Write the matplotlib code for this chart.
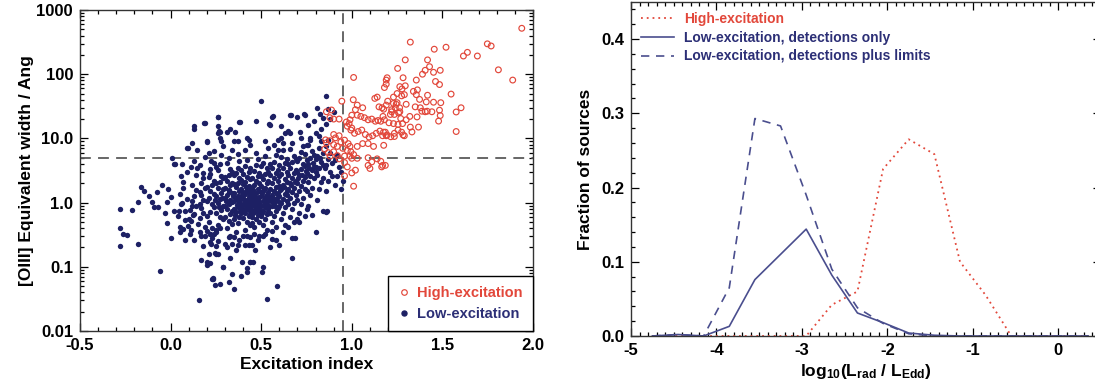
import matplotlib
matplotlib.use("Agg")
import matplotlib.pyplot as plt
from matplotlib.ticker import FixedLocator, FixedFormatter, MultipleLocator, LogLocator, NullFormatter
from matplotlib.lines import Line2D

plt.rcParams['font.family'] = ['Liberation Sans', 'DejaVu Sans']
plt.rcParams['font.weight'] = 'bold'
plt.rcParams['axes.unicode_minus'] = False
plt.rcParams['mathtext.fontset'] = 'custom'
plt.rcParams['mathtext.rm'] = 'Liberation Sans:bold'
plt.rcParams['mathtext.it'] = 'Liberation Sans:bold'
plt.rcParams['mathtext.bf'] = 'Liberation Sans:bold'

# ---- left panel: excitation index vs [OIII] EW
low_pts = [
    # x < 0
    (-0.28, 0.79), (-0.28, 0.40), (-0.265, 0.33), (-0.28, 0.21), (-0.24, 0.31), (-0.215, 0.78),
    (-0.18, 0.23), (-0.18, 1.04), (-0.165, 1.78), (-0.148, 1.52), (-0.10, 1.03), (-0.077, 1.48),
    (-0.068, 0.86), (-0.06, 0.087), (-0.02, 0.48), (-0.013, 1.62), (0.0, 0.28), (0.0, 1.23),
    (-0.018, 1.03), (-0.09, 0.85), (-0.12, 1.25), (-0.05, 1.9), (-0.03, 0.7), (0.01, 5.0), (0.02, 4.0),
    # core
    (0.04, 0.62), (0.06, 0.95), (0.05, 1.35), (0.07, 2.1), (0.05, 0.42), (0.08, 0.74), (0.07, 1.7),
    (0.09, 3.0), (0.06, 2.6), (0.09, 1.15),
    (0.11, 0.52), (0.12, 0.88), (0.13, 1.25), (0.12, 1.9), (0.14, 2.7), (0.11, 0.38), (0.13, 0.66),
    (0.12, 1.05), (0.14, 1.55), (0.11, 3.6), (0.13, 4.4), (0.15, 0.47), (0.14, 0.9),
    (0.16, 0.58), (0.17, 0.82), (0.18, 1.1), (0.16, 1.45), (0.17, 2.0), (0.18, 2.9), (0.16, 3.8),
    (0.19, 0.42), (0.18, 0.68), (0.17, 1.3), (0.19, 1.7), (0.18, 2.4), (0.16, 0.95), (0.19, 5.2), (0.17, 0.3),
    (0.21, 0.5), (0.22, 0.72), (0.23, 0.95), (0.21, 1.2), (0.22, 1.5), (0.23, 1.9), (0.21, 2.5),
    (0.22, 3.3), (0.24, 4.2), (0.23, 0.4), (0.2, 0.62), (0.24, 0.85), (0.2, 1.05), (0.24, 1.35),
    (0.2, 1.75), (0.24, 2.2), (0.22, 2.8), (0.21, 6.0), (0.23, 0.28),
    (0.26, 0.45), (0.27, 0.6), (0.28, 0.78), (0.26, 0.98), (0.27, 1.15), (0.28, 1.4), (0.26, 1.7),
    (0.27, 2.1), (0.28, 2.6), (0.26, 3.2), (0.27, 4.0), (0.28, 5.5), (0.25, 0.35), (0.29, 0.55),
    (0.25, 0.7), (0.29, 0.9), (0.25, 1.25), (0.29, 1.6), (0.25, 2.0), (0.29, 2.4), (0.25, 3.6),
    (0.29, 7.5), (0.26, 0.25),
    (0.31, 0.4), (0.32, 0.52), (0.33, 0.66), (0.31, 0.8), (0.32, 0.95), (0.33, 1.1), (0.31, 1.3),
    (0.32, 1.55), (0.33, 1.85), (0.31, 2.2), (0.32, 2.7), (0.33, 3.3), (0.31, 4.2), (0.34, 0.46),
    (0.3, 0.6), (0.34, 0.75), (0.3, 0.88), (0.34, 1.02), (0.3, 1.2), (0.34, 1.4), (0.3, 1.7),
    (0.34, 2.0), (0.3, 2.5), (0.34, 3.0), (0.32, 5.0), (0.33, 0.3), (0.31, 0.2), (0.34, 6.5),
    (0.36, 0.35), (0.37, 0.48), (0.38, 0.6), (0.36, 0.72), (0.37, 0.85), (0.38, 0.98), (0.36, 1.12),
    (0.37, 1.28), (0.38, 1.5), (0.36, 1.75), (0.37, 2.05), (0.38, 2.4), (0.36, 2.9), (0.37, 3.5),
    (0.38, 4.5), (0.35, 0.55), (0.39, 0.68), (0.35, 0.8), (0.39, 0.92), (0.35, 1.05), (0.39, 1.2),
    (0.35, 1.4), (0.39, 1.65), (0.35, 1.95), (0.39, 2.25), (0.35, 2.7), (0.39, 3.2), (0.37, 5.8),
    (0.38, 0.26), (0.36, 0.18),
    (0.41, 0.38), (0.42, 0.5), (0.43, 0.62), (0.41, 0.7), (0.42, 0.8), (0.43, 0.9), (0.41, 1.0),
    (0.42, 1.1), (0.43, 1.22), (0.41, 1.38), (0.42, 1.55), (0.43, 1.8), (0.41, 2.1), (0.42, 2.5),
    (0.43, 3.0), (0.41, 3.7), (0.42, 4.6), (0.44, 0.45), (0.4, 0.58), (0.44, 0.66), (0.4, 0.76),
    (0.44, 0.85), (0.4, 0.95), (0.44, 1.05), (0.4, 1.16), (0.44, 1.3), (0.4, 1.47), (0.44, 1.65),
    (0.4, 1.95), (0.44, 2.3), (0.4, 2.75), (0.44, 3.4), (0.42, 0.3), (0.43, 0.22), (0.41, 6.5), (0.44, 8.0),
    (0.46, 0.42), (0.47, 0.55), (0.48, 0.64), (0.46, 0.72), (0.47, 0.8), (0.48, 0.88), (0.46, 0.97),
    (0.47, 1.05), (0.48, 1.15), (0.46, 1.27), (0.47, 1.4), (0.48, 1.6), (0.46, 1.85), (0.47, 2.15),
    (0.48, 2.6), (0.46, 3.1), (0.47, 3.8), (0.48, 4.8), (0.45, 0.6), (0.49, 0.7), (0.45, 0.78),
    (0.49, 0.86), (0.45, 0.93), (0.49, 1.0), (0.45, 1.1), (0.49, 1.22), (0.45, 1.35), (0.49, 1.5),
    (0.45, 1.7), (0.49, 2.0), (0.45, 2.4), (0.49, 2.9), (0.46, 0.33), (0.48, 0.26), (0.47, 6.0),
    (0.49, 0.5), (0.45, 0.48),
    (0.51, 0.45), (0.52, 0.56), (0.53, 0.66), (0.51, 0.75), (0.52, 0.84), (0.53, 0.95), (0.51, 1.05),
    (0.52, 1.18), (0.53, 1.32), (0.51, 1.5), (0.52, 1.7), (0.53, 2.0), (0.51, 2.35), (0.52, 2.8),
    (0.53, 3.4), (0.51, 4.2), (0.52, 5.3), (0.5, 0.62), (0.54, 0.72), (0.5, 0.9), (0.54, 1.1),
    (0.5, 1.25), (0.54, 1.45), (0.5, 1.8), (0.54, 2.2), (0.5, 2.6), (0.54, 3.0), (0.5, 3.7),
    (0.53, 0.38), (0.51, 0.3), (0.54, 7.0), (0.52, 9.0),
    (0.56, 0.5), (0.57, 0.62), (0.58, 0.75), (0.56, 0.88), (0.57, 1.0), (0.58, 1.12), (0.56, 1.3),
    (0.57, 1.5), (0.58, 1.75), (0.56, 2.05), (0.57, 2.4), (0.58, 2.9), (0.56, 3.5), (0.57, 4.3),
    (0.58, 5.5), (0.55, 0.68), (0.59, 0.82), (0.55, 1.2), (0.59, 1.4), (0.55, 1.6), (0.59, 2.2),
    (0.55, 2.7), (0.59, 3.2), (0.55, 4.0), (0.59, 6.5), (0.57, 8.0), (0.56, 0.36), (0.58, 0.42),
    (0.61, 0.55), (0.62, 0.7), (0.63, 0.85), (0.61, 1.0), (0.62, 1.15), (0.63, 1.35), (0.61, 1.6),
    (0.62, 1.9), (0.63, 2.3), (0.61, 2.8), (0.62, 3.4), (0.63, 4.2), (0.61, 5.2), (0.62, 6.5),
    (0.6, 0.9), (0.64, 1.05), (0.6, 1.25), (0.64, 1.5), (0.6, 1.8), (0.64, 2.1), (0.6, 2.6),
    (0.64, 3.0), (0.6, 3.8), (0.64, 4.8), (0.63, 0.45), (0.62, 8.5),
    (0.66, 0.6), (0.67, 0.8), (0.68, 1.0), (0.66, 1.2), (0.67, 1.45), (0.68, 1.7), (0.66, 2.0),
    (0.67, 2.4), (0.68, 2.9), (0.66, 3.5), (0.67, 4.3), (0.68, 5.3), (0.66, 6.8), (0.65, 0.95),
    (0.69, 1.3), (0.65, 1.6), (0.69, 2.2), (0.65, 2.7), (0.69, 3.2), (0.65, 4.0), (0.69, 4.8),
    (0.67, 8.5), (0.68, 0.5),
    (0.71, 0.7), (0.72, 0.95), (0.73, 1.2), (0.71, 1.5), (0.72, 1.8), (0.73, 2.2), (0.71, 2.7),
    (0.72, 3.3), (0.73, 4.0), (0.71, 5.0), (0.72, 6.2), (0.73, 7.5), (0.7, 1.1), (0.74, 1.6),
    (0.7, 2.0), (0.74, 2.5), (0.7, 3.0), (0.74, 3.7), (0.7, 4.5), (0.74, 5.8), (0.72, 10.0), (0.71, 0.5),
    (0.76, 0.9), (0.77, 1.3), (0.78, 1.7), (0.76, 2.1), (0.77, 2.6), (0.78, 3.2), (0.76, 4.0),
    (0.77, 5.0), (0.78, 6.3), (0.76, 7.8), (0.75, 1.5), (0.79, 2.4), (0.75, 2.9), (0.79, 3.6),
    (0.75, 4.6), (0.79, 5.6), (0.77, 9.5), (0.78, 0.65),
    (0.81, 1.1), (0.82, 1.6), (0.83, 2.1), (0.81, 2.7), (0.82, 3.4), (0.83, 4.3), (0.81, 5.4),
    (0.82, 7.0), (0.84, 2.4), (0.8, 3.0), (0.84, 3.8), (0.8, 4.8), (0.84, 6.0), (0.83, 9.0),
    (0.86, 1.5), (0.87, 2.2), (0.88, 3.0), (0.86, 3.8), (0.87, 4.8), (0.88, 6.0), (0.86, 7.5),
    (0.89, 2.6), (0.85, 3.4), (0.89, 4.2), (0.87, 9.5),
    (0.91, 1.9), (0.92, 2.6), (0.93, 3.6), (0.91, 4.6), (0.94, 3.0), (0.92, 5.5), (0.95, 2.2), (0.94, 1.6),
    # extra core fill, densest around x 0.35-0.55, y 0.6-1.6
    (0.395, 0.82), (0.415, 0.87), (0.435, 0.76), (0.455, 0.68), (0.465, 0.9), (0.475, 0.74),
    (0.485, 0.95), (0.495, 0.78), (0.505, 0.68), (0.515, 0.93), (0.525, 1.0), (0.535, 0.8),
    (0.455, 1.15), (0.465, 1.02), (0.475, 1.2), (0.485, 1.08), (0.425, 1.02), (0.405, 1.08),
    (0.445, 1.18), (0.365, 0.92), (0.375, 1.05), (0.355, 0.65), (0.385, 0.75), (0.545, 0.88),
    (0.555, 1.05), (0.565, 1.18), (0.575, 0.9), (0.585, 1.35), (0.595, 1.05), (0.505, 1.4),
    (0.515, 1.62), (0.525, 1.25), (0.435, 1.42), (0.455, 1.58), (0.395, 1.32), (0.415, 1.72),
    (0.345, 1.25), (0.325, 1.45), (0.305, 1.05), (0.285, 1.2), (0.265, 0.85), (0.245, 1.1),
    (0.605, 1.55), (0.625, 1.75), (0.645, 1.3), (0.665, 1.85), (0.685, 2.1), (0.705, 2.4),
    (0.725, 2.7), (0.745, 3.1), (0.765, 3.5), (0.785, 4.2), (0.805, 3.6), (0.825, 5.0),
    # upper band
    (0.129, 15.5), (0.187, 17.5), (0.259, 21.5), (0.265, 13), (0.326, 14), (0.38, 18), (0.47, 18.5),
    (0.5, 38), (0.545, 16.5), (0.565, 22), (0.607, 15.5), (0.66, 23), (0.70, 21.5), (0.738, 24),
    (0.81, 30), (0.825, 24), (0.855, 46), (0.19, 17.2), (0.263, 21.8), (0.263, 15.5), (0.129, 13.8),
    (0.263, 12), (0.202, 9.1), (0.116, 8.4), (0.092, 7.0), (0.144, 6.6), (0.239, 6.4), (0.221, 4.4),
    (0.024, 4.0), (0.061, 4.0), (0.144, 3.4), (0.094, 7.1), (0.383, 17.8), (0.557, 21.8), (0.548, 16),
    (0.662, 23), (0.741, 23), (0.76, 16), (0.713, 12.7), (0.658, 12), (0.199, 8.9), (0.312, 12.5),
    (0.272, 12.4), (0.355, 12.5), (0.42, 10), (0.434, 9.5), (0.272, 10), (0.28, 9), (0.35, 9),
    (0.37, 9), (0.59, 9.5), (0.61, 10), (0.63, 12), (0.65, 13), (0.75, 8), (0.77, 10), (0.8, 12),
    (0.83, 14), (0.86, 17), (0.88, 20), (0.9, 26), (0.87, 29), (0.84, 21), (0.79, 19), (0.82, 11),
    # lower tail
    (0.158, 0.030), (0.533, 0.031), (0.588, 0.050), (0.245, 0.052), (0.274, 0.054), (0.352, 0.045),
    (0.234, 0.067), (0.288, 0.10), (0.337, 0.077), (0.386, 0.072), (0.423, 0.097), (0.44, 0.118),
    (0.51, 0.10), (0.166, 0.128), (0.215, 0.114), (0.21, 0.16), (0.669, 0.135), (0.80, 0.35),
    (0.856, 0.72), (0.842, 0.75), (0.861, 0.73), (0.668, 0.28), (0.686, 0.28), (0.202, 0.12),
    (0.202, 0.107), (0.226, 0.065), (0.29, 0.10), (0.323, 0.058), (0.392, 0.12), (0.438, 0.12),
    (0.452, 0.117), (0.502, 0.083), (0.42, 0.083), (0.327, 0.136), (0.263, 0.16), (0.245, 0.165),
    (0.25, 0.21), (0.221, 0.23), (0.18, 0.21), (0.30, 0.23), (0.337, 0.23), (0.373, 0.22),
    (0.41, 0.22), (0.447, 0.22), (0.465, 0.18), (0.40, 0.30), (0.44, 0.29), (0.49, 0.30),
    (0.52, 0.32), (0.56, 0.27), (0.58, 0.26), (0.32, 0.29), (0.35, 0.29), (0.20, 0.36), (0.22, 0.33),
    (0.25, 0.38), (0.27, 0.40), (0.129, 0.26), (0.162, 0.35), (0.19, 0.30), (0.217, 0.33),
    (0.239, 0.32), (0.217, 0.24), (0.25, 0.16), (0.235, 0.065), (0.052, 0.35), (0.066, 0.39),
    (0.079, 0.26), (0.107, 0.33), (0.097, 0.43), (0.079, 0.53), (0.103, 0.55), (0.125, 0.63),
    (0.107, 0.77), (0.018, 0.75), (0.048, 0.73), (0.061, 0.98), (0.62, 0.35), (0.65, 0.42),
    (0.7, 0.55), (0.74, 0.62), (0.75, 0.8), (0.55, 0.2), (0.6, 0.22),
]

high_pts = [
    (1.938, 519), (1.323, 316), (1.455, 245), (1.52, 263), (1.616, 192), (1.638, 219), (1.693, 192),
    (1.748, 297), (1.769, 275), (1.809, 117), (1.888, 81), (1.295, 167), (1.418, 167), (1.429, 131),
    (1.405, 115), (1.39, 100), (1.488, 115), (1.451, 107), (1.253, 123), (1.356, 81), (1.283, 88),
    (1.195, 88), (1.19, 70), (1.277, 59), (1.295, 66), (1.462, 77), (1.484, 69), (1.548, 49),
    (1.34, 54), (1.362, 57), (1.356, 48), (1.374, 40.5), (1.418, 47), (1.411, 37), (1.451, 36.6),
    (1.491, 36), (1.275, 46), (1.23, 35), (1.245, 34), (1.264, 30), (1.30, 34), (1.35, 31),
    (1.378, 30), (1.387, 26.5), (1.405, 26), (1.416, 26.5), (1.442, 26), (1.36, 21.6), (1.32, 22),
    (1.27, 20.4), (1.484, 27.5), (1.488, 22.7), (1.479, 18.6), (1.576, 25.8), (1.603, 30),
    (1.576, 12.8), (1.323, 15), (1.368, 15), (1.283, 11.3), (1.332, 12.6), (1.22, 28), (1.176, 28.5),
    (1.198, 38), (1.19, 33), (1.167, 30), (1.235, 23.6), (1.213, 23.6), (1.258, 25), (1.172, 22),
    (1.185, 12.5), (1.17, 11), (1.19, 11), (1.176, 7.8), (1.17, 3.8), (1.185, 3.8), (1.235, 10.7),
    (1.01, 89), (1.19, 81), (1.18, 62), (1.25, 50), (1.265, 64), (1.29, 48), (1.23, 44), (1.25, 36),
    (1.24, 30), (1.22, 26), (1.265, 26), (1.127, 42), (1.14, 44), (1.15, 31), (1.03, 33), (1.02, 28),
    (1.06, 30), (1.05, 22), (1.008, 40), (0.945, 38), (0.888, 27.7), (0.86, 26), (0.879, 21),
    (0.9, 20), (0.93, 20), (0.97, 18), (0.985, 17), (0.99, 19.5), (0.975, 15.5), (1.0, 14.5),
    (1.0, 23), (1.03, 23), (1.07, 21), (1.09, 19.5), (1.11, 20), (1.13, 18.5), (1.145, 19),
    (1.16, 18.5), (1.18, 19.5), (1.205, 17.5), (1.23, 17), (1.255, 16.5), (1.28, 17), (1.3, 19.5),
    (0.995, 13.5), (1.015, 12), (1.035, 12.8), (1.055, 13.5), (1.075, 11.5), (1.095, 10.5),
    (1.115, 11), (1.135, 12), (1.155, 13), (1.175, 12.5), (1.195, 11.3), (1.215, 10.6), (1.235, 12),
    (1.255, 13.5), (1.275, 12.5), (1.29, 11), (0.93, 11), (0.855, 9.5), (0.9, 11.5), (0.91, 10.2),
    (0.96, 9.4), (0.98, 8.3), (0.99, 7.5), (0.95, 7.0), (0.975, 6.5), (0.995, 6.2), (1.03, 7.5),
    (1.06, 8.3), (1.09, 8.3), (1.12, 7.5), (1.0, 4.9), (1.03, 4.9), (1.09, 5.0), (1.11, 4.3),
    (1.14, 4.8), (1.16, 4.4), (1.165, 3.6), (1.09, 3.8), (1.1, 3.4), (1.01, 5.6), (0.99, 5.3),
    (0.96, 5.3), (0.96, 4.2), (0.975, 3.6), (0.85, 6.8), (0.87, 6.0), (0.88, 5.3), (0.9, 6.2),
    (0.92, 5.4), (0.93, 4.8), (0.86, 8.5), (0.88, 9.2), (0.9, 8.0), (0.92, 7.5), (0.94, 8.8),
    (1.01, 1.8), (0.96, 2.6), (1.0, 2.9), (1.02, 3.2),
]

ew_cut = 5.0
exc_cut = 0.95

# ---- right panel: Eddington-ratio histograms
lbins = [-4.75, -4.45, -4.15, -3.85, -3.55, -3.25, -2.95, -2.65, -2.35, -2.05,
         -1.75, -1.45, -1.15, -0.85, -0.55, -0.25, 0.05, 0.35]
frac_high = [0, 0, 0, 0, 0, 0, 0, 0.042, 0.060, 0.225, 0.265, 0.245, 0.100, 0.055, 0, 0, 0, 0]
frac_low_det = [0, 0.002, 0, 0.013, 0.076, 0.110, 0.144, 0.082, 0.031, 0.018, 0.004, 0.001, 0, 0, 0, 0, 0, 0]
frac_low_all = [0, 0.002, 0, 0.065, 0.293, 0.283, 0.190, 0.090, 0.038, 0.017, 0.003, 0, 0, 0, 0, 0, 0, 0]

red = '#e2473a'
navy = '#1d2064'
navy_line = '#4a4e8e'
navy_text = '#2c2f76'
grey = '#5a5a5a'

fig = plt.figure(figsize=(10.95, 3.9), dpi=100)
ax1 = fig.add_axes([80 / 1095, 59 / 390, 453 / 1095, 321 / 390])
ax2 = fig.add_axes([631 / 1095, 54 / 390, 470 / 1095, 334 / 390])

lx, ly = zip(*low_pts)
hx, hy = zip(*high_pts)
ax1.scatter(lx, ly, s=15, marker='o', color=navy, linewidths=0, zorder=3)
ax1.scatter(hx, hy, s=17, marker='o', facecolors='none', edgecolors=red, linewidths=0.85, zorder=3)
ax1.axhline(ew_cut, color=grey, lw=1.3, dashes=(6, 4), zorder=2)
ax1.axvline(exc_cut, color=grey, lw=1.3, dashes=(6, 4), zorder=2)

ax1.set_yscale('log')
ax1.set_xlim(-0.5, 2.0)
ax1.set_ylim(0.01, 1000)
ax1.xaxis.set_major_locator(MultipleLocator(0.5))
ax1.xaxis.set_minor_locator(MultipleLocator(0.1))
ax1.xaxis.set_major_formatter(plt.FormatStrFormatter('%.1f'))
ax1.yaxis.set_major_locator(FixedLocator([0.01, 0.1, 1, 10, 100, 1000]))
ax1.yaxis.set_major_formatter(FixedFormatter(['0.01', '0.1', '1.0', '10.0', '100', '1000']))
ax1.yaxis.set_minor_locator(LogLocator(base=10, subs=range(2, 10)))
ax1.yaxis.set_minor_formatter(NullFormatter())
ax1.set_xlabel('Excitation index', fontsize=12.5, fontweight='bold', labelpad=3)
ax1.set_ylabel('[OIII] Equivalent width / Ang', fontsize=12.5, fontweight='bold', labelpad=2)

h1 = Line2D([], [], ls='none', marker='o', ms=4, mfc='none', mec=red, mew=0.85)
h2 = Line2D([], [], ls='none', marker='o', ms=3.6, mfc=navy, mec=navy)
leg1 = ax1.legend([h1, h2], ['High-excitation', 'Low-excitation'], loc='lower right',
                  borderaxespad=0, fancybox=False, framealpha=1, edgecolor='black',
                  handlelength=0.8, handletextpad=0.5, borderpad=0.7, labelspacing=0.45,
                  prop={'size': 10.5, 'weight': 'bold'})
leg1.get_frame().set_linewidth(1.0)
leg1.get_texts()[0].set_color(red)
leg1.get_texts()[1].set_color(navy_text)

ax2.plot(lbins, frac_high, color=red, lw=1.3, ls=(0, (1, 2.2)))
ax2.plot(lbins, frac_low_det, color=navy_line, lw=1.2, ls='-')
ax2.plot(lbins, frac_low_all, color=navy_line, lw=1.2, ls=(0, (5, 4)))
ax2.set_xlim(-5, 0.5)
ax2.set_ylim(0, 0.45)
ax2.xaxis.set_major_locator(MultipleLocator(1))
ax2.xaxis.set_minor_locator(MultipleLocator(0.1))
ax2.xaxis.set_major_formatter(plt.FormatStrFormatter('%d'))
ax2.yaxis.set_major_locator(FixedLocator([0.0, 0.1, 0.2, 0.3, 0.4]))
ax2.yaxis.set_major_formatter(plt.FormatStrFormatter('%.1f'))
ax2.yaxis.set_minor_locator(MultipleLocator(0.02))
ax2.set_xlabel(r'log$_{10}$(L$_{rad}$ / L$_{Edd}$)', fontsize=12.5, fontweight='bold', labelpad=3)
ax2.set_ylabel('Fraction of sources', fontsize=12.5, fontweight='bold', labelpad=6)

leg2 = ax2.legend(['High-excitation', 'Low-excitation, detections only',
                   'Low-excitation, detections plus limits'],
                  loc='upper left', frameon=False, handlelength=2.4, handletextpad=0.7,
                  labelspacing=0.35, borderaxespad=0.3, prop={'size': 10, 'weight': 'bold'})
for t, c in zip(leg2.get_texts(), [red, navy_text, navy_text]):
    t.set_color(c)

for ax in (ax1, ax2):
    ax.tick_params(which='both', direction='in', top=True, right=True, labelsize=12, width=0.9)
    ax.tick_params(which='major', length=6, pad=5)
    ax.tick_params(which='minor', length=3)
    for lab in ax.get_xticklabels() + ax.get_yticklabels():
        lab.set_fontweight('bold')
    for sp in ax.spines.values():
        sp.set_linewidth(1.0)
        sp.set_color('#333333')

fig.savefig('out.png', dpi=100)
